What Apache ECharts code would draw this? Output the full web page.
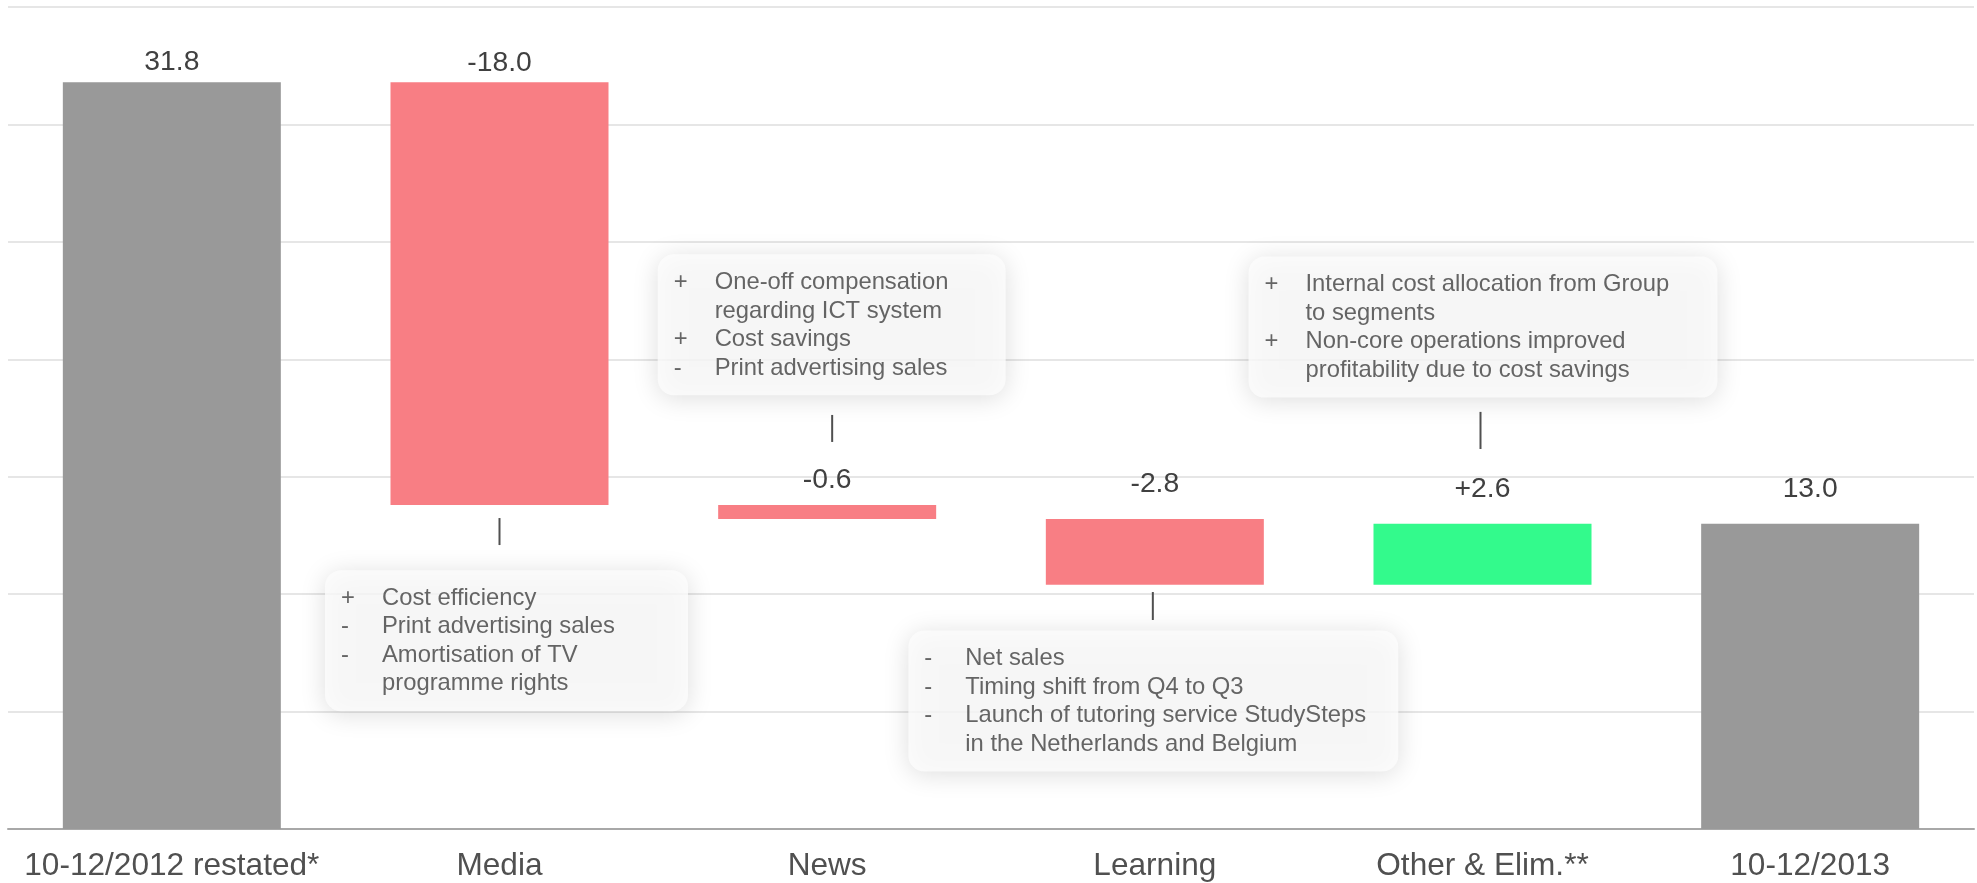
<!DOCTYPE html>
<html>
<head>
<meta charset="utf-8">
<style>
  html, body { margin: 0; padding: 0; background: #ffffff; }
  #chart { width: 1977px; height: 883px; }
</style>
<script src="https://cdn.jsdelivr.net/npm/echarts@6/dist/echarts.min.js"></script>
</head>
<body>
<div id="chart"></div>
<script>
// ---------------- DATA ----------------
const categories = ['10-12/2012 restated*', 'Media', 'News', 'Learning', 'Other & Elim.**', '10-12/2013'];
const startValue = 31.8;
const deltas = [-18.0, -0.6, -2.8, 2.6];
const endValue = 13.0;
const yTicks = [0, 5, 10, 15, 20, 25, 30, 35];

const notesMedia = [['+', 'Cost efficiency'], ['-', 'Print advertising sales'], ['-', 'Amortisation of TV'], ['', 'programme rights']];
const notesNews = [['+', 'One-off compensation'], ['', 'regarding ICT system'], ['+', 'Cost savings'], ['-', 'Print advertising sales']];
const notesLearning = [['-', 'Net sales'], ['-', 'Timing shift from Q4 to Q3'], ['-', 'Launch of tutoring service StudySteps'], ['', 'in the Netherlands and Belgium']];
const notesOther = [['+', 'Internal cost allocation from Group'], ['', 'to segments'], ['+', 'Non-core operations improved'], ['', 'profitability due to cost savings']];

// ---------------- LAYOUT / STYLE ----------------
const FONT = '"Liberation Sans", Arial, Helvetica, sans-serif';
const COL_TOTAL = '#999999', COL_NEG = '#F87E84', COL_POS = '#33FA8C';
const labelDistance = [6, 5, 10.5, 21, 20, 20];
// annotation boxes: category index, box-top value, pixel dx of left edge from category centre, box width
const boxes = [
  { cat: 1, top: 11.0, dx: -174, w: 363, notes: notesMedia },
  { cat: 2, top: 24.45, dx: -169, w: 348, notes: notesNews },
  { cat: 3, top: 8.43, dx: -246, w: 490, notes: notesLearning },
  { cat: 4, top: 24.35, dx: -233.5, w: 469, notes: notesOther }
];
// connectors: [categoryIndex, fromValue, toValue], pixel dx
const connectors = [[1, 13.24, 12.09], [2, 17.63, 16.48], [3, 10.09, 8.90], [4, 17.76, 16.18]];
const connectorDx = [0, 5, -2, -2];

// ---------------- BUILD ----------------
const values = [startValue].concat(deltas.map(Math.abs), [endValue]);
const bases = [0];
let run = startValue;
deltas.forEach(d => { const next = run + d; bases.push(Math.min(run, next)); run = next; });
bases.push(0);
const labelTexts = [startValue.toFixed(1)]
  .concat(deltas.map(d => (d > 0 ? '+' : '') + d.toFixed(1)), [endValue.toFixed(1)]);
const colors = values.map((v, i) => (i === 0 || i === values.length - 1) ? COL_TOTAL : (deltas[i - 1] < 0 ? COL_NEG : COL_POS));

const richStyle = {
  b: { width: 41, align: 'left', fontSize: 23.8, lineHeight: 28.5, color: '#404040', fontFamily: FONT },
  t: { align: 'left', fontSize: 23.8, lineHeight: 28.5, color: '#404040', fontFamily: FONT }
};

const boxSeries = boxes.map(bx => ({
  type: 'scatter',
  silent: true,
  symbolSize: 1,
  itemStyle: { color: 'rgba(0,0,0,0)' },
  z: 5,
  data: [[bx.cat, bx.top]],
  label: {
    show: true,
    position: [bx.dx, 0],
    align: 'left',
    verticalAlign: 'top',
    width: bx.w - 32,
    padding: [14, 16, 13, 16],
    backgroundColor: '#fdfdfd',
    borderRadius: 16,
    shadowBlur: 26,
    shadowColor: 'rgba(0,0,0,0.17)',
    shadowOffsetY: 3,
    formatter: () => bx.notes.map(([b, t]) => '{b|' + (b || ' ') + '}{t|' + t + '}').join('\n'),
    rich: richStyle
  }
}));

const chart = echarts.init(document.getElementById('chart'), null, { renderer: 'canvas' });
chart.setOption({
  animation: false,
  backgroundColor: '#ffffff',
  textStyle: { fontFamily: FONT },
  grid: { left: 8, right: 3, top: 7, bottom: 54, containLabel: false, outerBoundsMode: 'none' },
  xAxis: {
    type: 'category',
    data: categories,
    axisTick: { show: false },
    axisLine: { show: true, lineStyle: { color: '#a8a8a8', width: 2 } },
    axisLabel: { fontSize: 31.6, color: '#505050', margin: 21, fontFamily: FONT, interval: 0 },
    splitLine: { show: false }
  },
  yAxis: {
    type: 'value',
    min: yTicks[0],
    max: yTicks[yTicks.length - 1],
    interval: yTicks[1] - yTicks[0],
    axisLabel: { show: false },
    axisLine: { show: false },
    axisTick: { show: false },
    splitLine: { show: true, lineStyle: { color: '#dedede', width: 1.5 } }
  },
  series: [
    {
      type: 'bar',
      stack: 'wf',
      silent: true,
      barWidth: 218,
      itemStyle: { color: 'rgba(0,0,0,0)' },
      data: bases
    },
    {
      type: 'bar',
      stack: 'wf',
      silent: true,
      barWidth: 218,
      data: values.map((v, i) => ({
        value: v,
        itemStyle: { color: colors[i] },
        label: { distance: labelDistance[i] }
      })),
      label: {
        show: true,
        position: 'top',
        fontSize: 28.3,
        color: '#404040',
        fontFamily: FONT,
        formatter: p => labelTexts[p.dataIndex]
      }
    },
    {
      type: 'custom',
      silent: true,
      z: 4,
      encode: { x: 0, y: [1, 2] },
      data: connectors,
      renderItem: (params, api) => {
        const p1 = api.coord([api.value(0), api.value(1)]);
        const p2 = api.coord([api.value(0), api.value(2)]);
        const dx = connectorDx[params.dataIndex];
        return {
          type: 'line',
          shape: { x1: p1[0] + dx, y1: p1[1], x2: p2[0] + dx, y2: p2[1] },
          style: { stroke: '#505050', lineWidth: 2 }
        };
      }
    }
  ].concat(boxSeries)
});
</script>
</body>
</html>
